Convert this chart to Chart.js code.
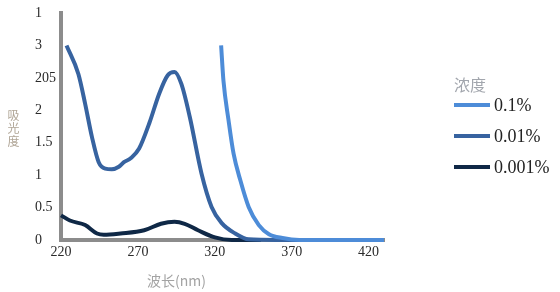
<!DOCTYPE html>
<html>
<head>
<meta charset="utf-8">
<script src="https://cdn.jsdelivr.net/npm/chart.js@4/dist/chart.umd.min.js"></script>
<style>
  html, body { margin: 0; padding: 0; background: #fff; }
  #wrap { position: relative; width: 560px; height: 292px; }
  canvas { position: absolute; left: 0; top: 0; }
  .ytitle { position: absolute; left: 6px; top: 108px; width: 15px; font-family: "Noto Sans CJK SC"; font-size: 12px; line-height: 13px; color: #b0a596; text-align: center; }
  .xtitle { position: absolute; left: 147px; top: 270px; font: 14px "Noto Sans CJK SC"; color: #a3a3a3; white-space: nowrap; }
  .legend { position: absolute; left: 454px; top: 74px; }
  .legend .lt { font: 16px "Noto Sans CJK SC"; color: #a2a6ad; line-height: 20px; height: 21px; }
  .legend .item { position: relative; height: 31px; }
  .legend .sw { position: absolute; left: 0; width: 36px; height: 4px; }
  .legend .tx { position: absolute; left: 40px; font: 18px "Liberation Serif"; color: #222; white-space: nowrap; line-height: 20px; }
</style>
</head>
<body>
<div id="wrap">
  <canvas id="c" width="560" height="292"></canvas>
  <div class="ytitle">吸<br>光<br>度</div>
  <div class="xtitle">波长(nm)</div>
  <div class="legend" id="legend"></div>
</div>
<script>
// ---- data ----
const seriesNames = ['0.1%', '0.01%', '0.001%'];
const seriesColors = ['#4d8cd8', '#3763a0', '#0f2846'];
const legendTitle = '浓度';
const xTitle = '波长(nm)';
const yTitle = '吸光度';

const xTicks = [220, 270, 320, 370, 420];
const yTickLabels = ['0', '0.5', '1', '1.5', '2', '205', '3', '1'];

const x01 = [324.1, 325.6, 328.9, 332.2, 336.6, 342.0, 348.6, 355.2, 364.0, 375.0, 400.0, 430.0];
const y01 = [3.0, 2.46, 1.85, 1.33, 0.92, 0.51, 0.23, 0.09, 0.03, 0.0, 0.0, 0.0];

const x001 = [223.6, 231.3, 235.7, 240.1, 244.5, 248.8, 253.0, 257.6, 260.9, 265.3, 270.8, 277.4, 283.9, 289.4, 293.8, 298.2, 303.7, 311.3, 317.9, 324.5, 333.3, 342.0, 360.0, 399.0];
const y001 = [3.0, 2.56, 2.10, 1.59, 1.20, 1.10, 1.09, 1.13, 1.20, 1.26, 1.41, 1.80, 2.26, 2.54, 2.59, 2.41, 1.90, 1.03, 0.51, 0.26, 0.10, 0.01, 0.0, 0.0];

const x0001 = [220.0, 225.8, 235.7, 243.4, 247.8, 258.7, 274.1, 285.0, 293.8, 300.4, 309.1, 320.1, 331.0, 350.0];
const y0001 = [0.38, 0.30, 0.23, 0.10, 0.08, 0.10, 0.15, 0.25, 0.28, 0.25, 0.15, 0.04, 0.0, 0.0];

const allX = [x01, x001, x0001];
const allY = [y01, y001, y0001];

// ---- chart ----
const datasets = seriesNames.map((name, i) => ({
  label: name,
  data: allX[i].map((x, j) => ({ x: x, y: allY[i][j] })),
  borderColor: seriesColors[i],
  backgroundColor: seriesColors[i],
  borderWidth: 4,
  pointRadius: 0,
  cubicInterpolationMode: 'monotone',
  clip: 6,
  fill: false
}));

new Chart(document.getElementById('c'), {
  type: 'line',
  data: { datasets },
  options: {
    responsive: false,
    devicePixelRatio: 1,
    animation: false,
    layout: { padding: { left: 35, right: 176, top: 13, bottom: 0 } },
    plugins: { legend: { display: false }, tooltip: { enabled: false } },
    scales: {
      x: {
        type: 'linear',
        min: 220,
        max: 430,
        afterFit: s => { s.height = 52; },
        afterBuildTicks: s => { s.ticks = xTicks.map(v => ({ value: v })); },
        grid: { display: false, drawTicks: false },
        border: { display: true, color: '#8c8c8c', width: 4 },
        ticks: { padding: 4, color: '#2a2a2a', font: { family: 'Liberation Serif', size: 14 }, maxRotation: 0, autoSkip: false },
        title: { display: false, text: xTitle }
      },
      y: {
        type: 'linear',
        min: 0,
        max: 3.5,
        afterFit: s => { s.width = 26; },
        afterBuildTicks: s => { s.ticks = yTickLabels.map((t, i) => ({ value: i * 0.5 })); },
        grid: { display: false, drawTicks: false },
        border: { display: true, color: '#8c8c8c', width: 4 },
        ticks: {
          crossAlign: 'far',
          padding: 4,
          color: '#2a2a2a',
          font: { family: 'Liberation Serif', size: 14 },
          autoSkip: false,
          callback: (v, i) => yTickLabels[i]
        },
        title: { display: false, text: yTitle }
      }
    }
  }
});

// ---- legend (HTML, real text) ----
const lg = document.getElementById('legend');
const t = document.createElement('div');
t.className = 'lt';
t.textContent = legendTitle;
lg.appendChild(t);
seriesNames.forEach((name, i) => {
  const it = document.createElement('div');
  it.className = 'item';
  const sw = document.createElement('div');
  sw.className = 'sw';
  sw.style.background = seriesColors[i];
  sw.style.top = '8px';
  const tx = document.createElement('div');
  tx.className = 'tx';
  tx.style.top = '0px';
  tx.textContent = name;
  it.appendChild(sw);
  it.appendChild(tx);
  lg.appendChild(it);
});
</script>
</body>
</html>
